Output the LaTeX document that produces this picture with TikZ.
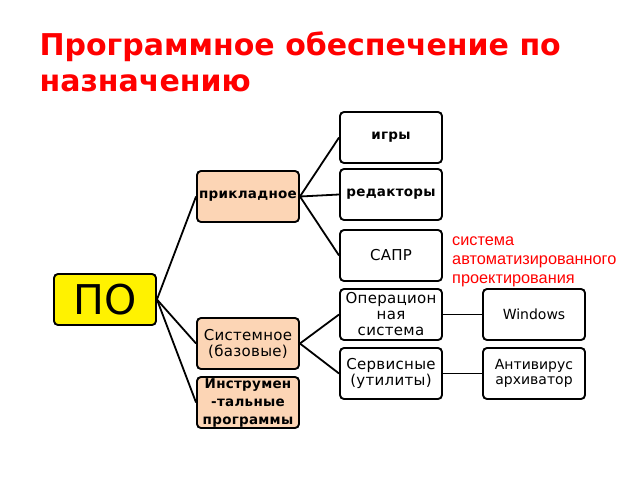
\documentclass[tikz,border=0pt]{standalone}
\usepackage{fontspec}
\setmainfont{DejaVu Sans}
\newfontfamily\boxfont[LetterSpace=2]{DejaVu Sans}
\newfontfamily\notefont{Liberation Sans}
\definecolor{peach}{RGB}{252,213,181}
\definecolor{titlered}{RGB}{255,0,0}

\tikzset{
  box/.style={draw, rounded corners=4pt, line width=1.9pt, minimum width=102pt,
    minimum height=51pt, align=center, inner sep=1pt,
    font=\boxfont\fontsize{15}{16}\selectfont},
  rootbox/.style={box, fill=yellow, font=\fontsize{41}{44}\selectfont},
  kindbox/.style={box, fill=peach},
  plainbox/.style={box, fill=white},
  boldtext/.style={font=\boxfont\bfseries\fontsize{13.5}{18}\selectfont},
  lighttext/.style={font=\fontsize{14}{15}\selectfont},
  link/.style={line width=1.8pt}
}

\begin{document}
\begin{tikzpicture}[x=1pt,y=-1pt,node distance=143pt]
      \useasboundingbox (0,0) rectangle (640,480);

      \node[anchor=base west,text=titlered,font=\bfseries\fontsize{30}{32}\selectfont] (title1) at (36,55) {Программное обеспечение по};
      \node[anchor=base west,text=titlered,font=\bfseries\fontsize{30}{32}\selectfont] (title2) at (36,91) {назначению};

      \node[rootbox] (po) at (105,299.5) {ПО};
      \node[kindbox,boldtext,right of=po,yshift=103pt] (appl) {прикладное};
      \node[kindbox,right of=po,yshift=-44pt] (sys) {Системное\\(базовые)};
      \node[kindbox,boldtext,right of=po,yshift=-103pt,inner sep=0pt] (instr) {Инструмен\\-тальные\\программы};

      \node[plainbox,boldtext,right of=appl,yshift=59pt] (games) {игры};
      \node[plainbox,boldtext,right of=appl,yshift=2pt] (edit) {редакторы};
      \node[plainbox,right of=appl,yshift=-59pt] (cad) {САПР};
      \node[plainbox,right of=sys,yshift=29pt] (os) {Операцион\\ная\\система};
      \node[plainbox,right of=sys,yshift=-30pt] (util) {Сервисные\\(утилиты)};

      \node[plainbox,lighttext,right of=os] (win) {Windows};
      \node[plainbox,lighttext,right of=util] (av) {Антивирус\\архиватор};

      \node[anchor=north west,align=left,text=titlered,inner sep=0pt,
        font=\notefont\fontsize{16.3}{19}\selectfont] (cadnote) at (452,237)
        {система\\автоматизированного\\проектирования};

      \draw[link] (po.east) -- (appl.west);
      \draw[link] (po.east) -- (sys.west);
      \draw[link] (po.east) -- (instr.west);
      \draw[link] (appl.east) -- (games.west);
      \draw[link] (appl.east) -- (edit.west);
      \draw[link] (appl.east) -- (cad.west);
      \draw[link] (sys.east) -- (os.west);
      \draw[link] (sys.east) -- (util.west);
      \draw[link] (os) -- (win);
      \draw[link] (util) -- (av);
    \end{tikzpicture}
\end{document}
